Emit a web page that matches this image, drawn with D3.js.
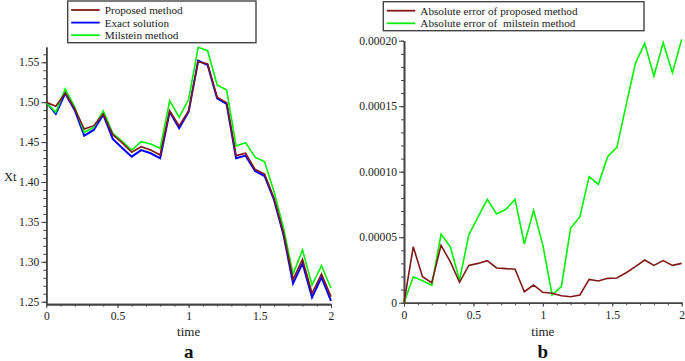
<!DOCTYPE html>
<html>
<head>
<meta charset="utf-8">
<script src="https://cdn.jsdelivr.net/npm/d3@7"></script>
<style>
    body { margin: 0; background: #fff; }
    svg { display: block; font-family: "Liberation Serif", "Times New Roman", serif; }
</style>
</head>
<body>
<div id="chart"></div>
<script>
// time grid (31 steps on [0, 2])
const times = [0, 0.0667, 0.1333, 0.2, 0.2667, 0.3333, 0.4, 0.4667, 0.5333, 0.6, 0.6667,
    0.7333, 0.8, 0.8667, 0.9333, 1, 1.0667, 1.1333, 1.2, 1.2667, 1.3333,
    1.4, 1.4667, 1.5333, 1.6, 1.6667, 1.7333, 1.8, 1.8667, 1.9333, 2];

// panel a
const proposed = [1.500, 1.4949, 1.5115, 1.4915, 1.4664, 1.4706, 1.4852, 1.4593, 1.4489, 1.4372, 1.4442,
    1.4400, 1.4338, 1.4893, 1.4702, 1.4893, 1.5508, 1.5479, 1.5061, 1.4994, 1.4330,
    1.4360, 1.4159, 1.4100, 1.3796, 1.3357, 1.2780, 1.3031, 1.2605, 1.2847, 1.2563];
const exact = [1.500, 1.4852, 1.5110, 1.4900, 1.4580, 1.4652, 1.4844, 1.4539, 1.4426, 1.4317, 1.4400,
    1.4360, 1.4297, 1.4880, 1.4673, 1.4880, 1.5520, 1.5466, 1.5049, 1.4977, 1.4297,
    1.4330, 1.4138, 1.4075, 1.3775, 1.3336, 1.2730, 1.2981, 1.2555, 1.2806, 1.2509];
const milstein = [1.4995, 1.4873, 1.5165, 1.4940, 1.4623, 1.4685, 1.4893, 1.4610, 1.4510, 1.4400, 1.4505,
    1.4476, 1.4422, 1.5019, 1.4811, 1.5036, 1.5688, 1.5645, 1.5216, 1.5153, 1.4451,
    1.4493, 1.4310, 1.4254, 1.3879, 1.3420, 1.2847, 1.3148, 1.2709, 1.2951, 1.2668];

// panel b (absolute errors, in units of 1e-5)
const errProposed = [0, 4.27, 1.98, 1.53, 4.38, 3.13, 1.56, 2.85, 3.0, 3.21, 2.65,
    2.6, 2.55, 0.84, 1.35, 0.79, 0.72, 0.53, 0.46, 0.59, 1.78,
    1.66, 1.86, 1.89, 2.29, 2.75, 3.26, 2.85, 3.21, 2.85, 3.0];
const errMilstein = [0, 1.98, 1.68, 1.33, 5.22, 4.27, 1.73, 5.17, 6.56, 7.89, 6.77,
    7.13, 7.89, 4.48, 7.05, 4.4, 0.59, 1.22, 5.68, 6.57, 9.62,
    9.04, 11.15, 11.86, 15.1, 18.27, 19.8, 17.3, 19.85, 17.56, 20.1];

const xTicks = [0, 0.5, 1, 1.5, 2];
const yTicksA = [1.25, 1.30, 1.35, 1.40, 1.45, 1.50, 1.55];
const yTicksB = [0, 0.00005, 0.00010, 0.00015, 0.00020];

const legendA = ["Proposed method", "Exact solution", "Milstein method"];
const legendB = ["Absolute error of proposed method", "Absolute error of  milstein method"];

const brown = "#801818", blue = "#0000ff", green = "#00f000";
const axisColor = "#444";
const serif = "Liberation Serif, Times New Roman, serif";

const svg = d3.select("#chart")
    .append("svg")
    .attr("width", 685)
    .attr("height", 361);

function styleAxis(sel) {
    sel.attr("font-family", serif).attr("font-size", 11.6);
    sel.select("path.domain").attr("stroke", axisColor).attr("stroke-width", 1.6);
    sel.selectAll(".tick line").attr("stroke", axisColor).attr("stroke-width", 1);
    sel.selectAll(".tick text")
        .attr("fill", "#222")
        .style("font-family", serif)
        .style("font-size", "11.6px");
}

function drawAxes(x, y, xMinor, yMinor, yMajor, yFormat) {
    const g = svg.append("g");
    // minor ticks
    g.append("g")
        .attr("transform", `translate(0,${y.range()[0]})`)
        .call(d3.axisBottom(x).tickValues(xMinor).tickSize(2.5).tickFormat("").tickSizeOuter(0))
        .call(styleAxis);
    g.append("g")
        .attr("transform", `translate(${x.range()[0]},0)`)
        .call(d3.axisLeft(y).tickValues(yMinor).tickSize(3).tickFormat("").tickSizeOuter(0))
        .call(styleAxis);
    // major ticks
    g.append("g")
        .attr("transform", `translate(0,${y.range()[0]})`)
        .call(d3.axisBottom(x).tickValues(xTicks).tickSize(4).tickPadding(4)
            .tickFormat(d => String(d)).tickSizeOuter(0))
        .call(styleAxis);
    g.append("g")
        .attr("transform", `translate(${x.range()[0]},0)`)
        .call(d3.axisLeft(y).tickValues(yMajor).tickSize(5).tickPadding(2).tickFormat(yFormat).tickSizeOuter(0))
        .call(styleAxis);
}

function drawLines(x, y, series) {
    const line = d3.line().x((d, i) => x(times[i])).y(d => y(d));
    series.forEach(s => {
        svg.append("path")
            .datum(s.values)
            .attr("fill", "none")
            .attr("stroke", s.color)
            .attr("stroke-width", s.width)
            .attr("stroke-linejoin", "miter")
            .attr("d", line);
    });
}

function drawLegend(x0, y0, w, h, labels, colors) {
    const g = svg.append("g");
    g.append("rect")
        .attr("x", x0).attr("y", y0)
        .attr("width", w).attr("height", h)
        .attr("fill", "#fff")
        .attr("stroke", axisColor)
        .attr("stroke-width", 1.4);
    labels.forEach((label, i) => {
        const ly = y0 + 9 + i * 12.6;
        g.append("line")
            .attr("x1", x0 + 3.5).attr("x2", x0 + 32)
            .attr("y1", ly).attr("y2", ly)
            .attr("stroke", colors[i]).attr("stroke-width", 1.8);
        g.append("text")
            .attr("x", x0 + 37).attr("y", ly)
            .attr("dy", "0.35em")
            .style("font-family", serif)
            .style("font-size", "11.2px")
            .style("white-space", "pre")
            .attr("fill", "#222")
            .text(label);
    });
}

function addText(x, y, txt, size, bold, anchor) {
    svg.append("text")
        .attr("x", x).attr("y", y)
        .attr("text-anchor", anchor || "middle")
        .style("font-family", serif)
        .style("font-size", size + "px")
        .style("font-weight", bold ? "bold" : "normal")
        .attr("fill", bold ? "#111" : "#222")
        .text(txt);
}

// ---- panel a ----
const xA = d3.scaleLinear().domain([0, 2]).range([46.3, 331]);
const yA = d3.scaleLinear().domain([1.247, 1.569]).range([304.1, 47.1]);

drawAxes(xA, yA, d3.range(0, 2.001, 0.1), d3.range(1.25, 1.5601, 0.01), yTicksA, d3.format(".2f"));
drawLines(xA, yA, [
    { values: exact, color: blue, width: 2 },
    { values: milstein, color: green, width: 1.6 },
    { values: proposed, color: brown, width: 1.6 }
]);

addText(4, 181, "Xt", 12.5, false, "start");
addText((xA(0) + xA(2)) / 2, 336, "time", 13);
addText((xA(0) + xA(2)) / 2, 358, "a", 19, true);

drawLegend(67.7, 1, 188.3, 41.7, legendA, [brown, blue, green]);

// ---- panel b ----
const xB = d3.scaleLinear().domain([0, 2]).range([404, 681.7]);
const yB = d3.scaleLinear().domain([0, 0.0002]).range([302.7, 40.7]);

drawAxes(xB, yB, d3.range(0, 2.001, 0.1), d3.range(0, 0.000201, 0.00001), yTicksB,
    d => d === 0 ? "0" : d3.format(".5f")(d));
drawLines(xB, yB, [
    { values: errMilstein.map(v => v * 1e-5), color: green, width: 1.6 },
    { values: errProposed.map(v => v * 1e-5), color: brown, width: 1.6 }
]);

addText((xB(0) + xB(2)) / 2, 336, "time", 13);
addText((xB(0) + xB(2)) / 2, 358, "b", 19, true);

drawLegend(383.3, 1.7, 260.7, 29, legendB, [brown, green]);
</script>
</body>
</html>
